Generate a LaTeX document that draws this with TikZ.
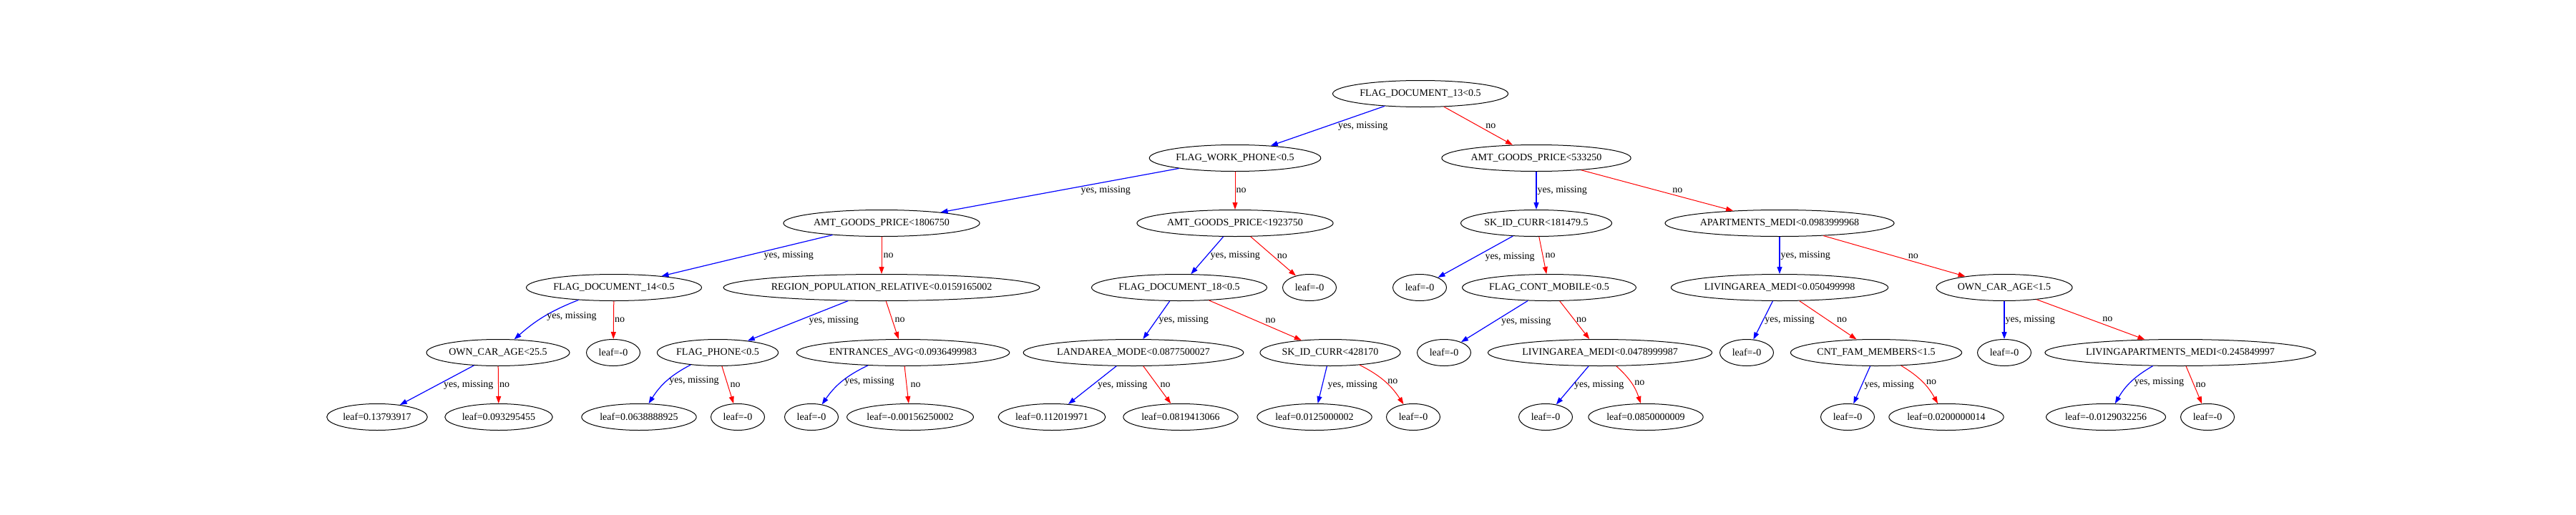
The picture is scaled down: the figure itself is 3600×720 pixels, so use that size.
\documentclass[tikz,border=0pt]{standalone}
\usepackage{fontspec}
\setmainfont{Liberation Serif}
\usetikzlibrary{shapes.geometric,arrows.meta}

\begin{document}
\begin{tikzpicture}[x=1pt,y=-1pt]
  \tikzstyle{every node}+=[font=\fontsize{14}{16}\selectfont]
  \tikzstyle{tnode}=[draw, ellipse, line width=1pt, inner xsep=2pt, inner ysep=2pt, minimum width=75pt, minimum height=37pt]
  \tikzstyle{yesedge}=[blue, line width=1.2pt, -{Triangle[length=10pt,width=7pt]}]
  \tikzstyle{noedge}=[red, line width=1pt, -{Triangle[length=10pt,width=7pt]}]
  \tikzstyle{lbl}=[midway, anchor=west, inner sep=0pt, text=black]
  \useasboundingbox (0,0) rectangle (3600,720);

  % level 0 and 1
  \node[tnode] (fdoc13) at (1985,131) {FLAG\_DOCUMENT\_13<0.5};
  \node[tnode] (fwphone) at (1726,221) {FLAG\_WORK\_PHONE<0.5};
  \node[tnode] (agp533) at (2147,221) {AMT\_GOODS\_PRICE<533250};

  % level 2
  \node[tnode] (agp1806) at (1232,312) {AMT\_GOODS\_PRICE<1806750};
  \node[tnode] (agp1923) at (1726,312) {AMT\_GOODS\_PRICE<1923750};
  \node[tnode] (skid181) at (2147,312) {SK\_ID\_CURR<181479.5};
  \node[tnode] (apmedi) at (2487,312) {APARTMENTS\_MEDI<0.0983999968};

  % level 3
  \node[tnode] (fdoc14) at (858,402) {FLAG\_DOCUMENT\_14<0.5};
  \node[tnode] (regpop) at (1232,402) {REGION\_POPULATION\_RELATIVE<0.0159165002};
  \node[tnode] (fdoc18) at (1648,402) {FLAG\_DOCUMENT\_18<0.5};
  \node[tnode] (lfa) at (1830,402) {leaf=-0};
  \node[tnode] (lfb) at (1984,402) {leaf=-0};
  \node[tnode] (fcont) at (2165,402) {FLAG\_CONT\_MOBILE<0.5};
  \node[tnode] (lamedi05) at (2487,402) {LIVINGAREA\_MEDI<0.050499998};
  \node[tnode] (ocar15) at (2801,402) {OWN\_CAR\_AGE<1.5};

  % level 4
  \node[tnode] (ocar25) at (696,493) {OWN\_CAR\_AGE<25.5};
  \node[tnode] (lfc) at (857,493) {leaf=-0};
  \node[tnode] (fphone) at (1003,493) {FLAG\_PHONE<0.5};
  \node[tnode] (entavg) at (1262,493) {ENTRANCES\_AVG<0.0936499983};
  \node[tnode] (landmode) at (1584,493) {LANDAREA\_MODE<0.0877500027};
  \node[tnode] (skid428) at (1859,493) {SK\_ID\_CURR<428170};
  \node[tnode] (lfd) at (2018,493) {leaf=-0};
  \node[tnode] (lamedi04) at (2236,493) {LIVINGAREA\_MEDI<0.0478999987};
  \node[tnode] (lfe) at (2441,493) {leaf=-0};
  \node[tnode] (cntfam) at (2622,493) {CNT\_FAM\_MEMBERS<1.5};
  \node[tnode] (lff) at (2801,493) {leaf=-0};
  \node[tnode] (lapmedi) at (3047,493) {LIVINGAPARTMENTS\_MEDI<0.245849997};

  % level 5 (leaves)
  \node[tnode] (lv1) at (527,583) {leaf=0.13793917};
  \node[tnode] (lv2) at (697,583) {leaf=0.093295455};
  \node[tnode] (lv3) at (893,583) {leaf=0.0638888925};
  \node[tnode] (lv4) at (1031,583) {leaf=-0};
  \node[tnode] (lv5) at (1134,583) {leaf=-0};
  \node[tnode] (lv6) at (1272,583) {leaf=-0.00156250002};
  \node[tnode] (lv7) at (1470,583) {leaf=0.112019971};
  \node[tnode] (lv8) at (1650,583) {leaf=0.0819413066};
  \node[tnode] (lv9) at (1837,583) {leaf=0.0125000002};
  \node[tnode] (lv10) at (1975,583) {leaf=-0};
  \node[tnode] (lv11) at (2160,583) {leaf=-0};
  \node[tnode] (lv12) at (2300,583) {leaf=0.0850000009};
  \node[tnode] (lv13) at (2582,583) {leaf=-0};
  \node[tnode] (lv14) at (2720,583) {leaf=0.0200000014};
  \node[tnode] (lv15) at (2943,583) {leaf=-0.0129032256};
  \node[tnode] (lv16) at (3085,583) {leaf=-0};

  % edges
  \draw[yesedge] (fdoc13) -- node[lbl, xshift=14pt] {yes, missing} (fwphone);
  \draw[noedge] (fdoc13) -- node[lbl, xshift=10pt] {no} (agp533);
  \draw[yesedge] (fwphone) -- node[lbl, xshift=29pt] {yes, missing} (agp1806);
  \draw[noedge] (fwphone) -- node[lbl, xshift=1pt] {no} (agp1923);
  \draw[yesedge] (agp533) -- node[lbl, xshift=1pt] {yes, missing} (skid181);
  \draw[noedge] (agp533) -- node[lbl, xshift=21pt] {no} (apmedi);

  \draw[yesedge] (agp1806) -- node[lbl, xshift=23pt] {yes, missing} (fdoc14);
  \draw[noedge] (agp1806) -- node[lbl, xshift=2pt] {no} (regpop);
  \draw[yesedge] (agp1923) -- node[lbl, xshift=4pt] {yes, missing} (fdoc18);
  \draw[noedge] (agp1923) -- node[lbl, xshift=5pt] {no} (lfa);
  \draw[yesedge] (skid181) -- node[lbl, xshift=13pt] {yes, missing} (lfb);
  \draw[noedge] (skid181) -- node[lbl, xshift=3pt] {no} (fcont);
  \draw[yesedge] (apmedi) -- node[lbl, xshift=1pt] {yes, missing} (lamedi05);
  \draw[noedge] (apmedi) -- node[lbl, xshift=19pt] {no} (ocar15);

  \draw[yesedge] (fdoc14) to[bend right=10] node[lbl, xshift=3pt] {yes, missing} (ocar25);
  \draw[noedge] (fdoc14) -- node[lbl, xshift=1pt] {no} (lfc);
  \draw[yesedge] (regpop) -- node[lbl, xshift=15pt] {yes, missing} (fphone);
  \draw[noedge] (regpop) -- node[lbl, xshift=3pt] {no} (entavg);
  \draw[yesedge] (fdoc18) -- node[lbl, xshift=3pt] {yes, missing} (landmode);
  \draw[noedge] (fdoc18) -- node[lbl, xshift=14pt] {no} (skid428);
  \draw[yesedge] (fcont) -- node[lbl, xshift=9pt] {yes, missing} (lfd);
  \draw[noedge] (fcont) -- node[lbl, xshift=2pt] {no} (lamedi04);
  \draw[yesedge] (lamedi05) -- node[lbl, xshift=2pt] {yes, missing} (lfe);
  \draw[noedge] (lamedi05) -- node[lbl, xshift=12pt] {no} (cntfam);
  \draw[yesedge] (ocar15) -- node[lbl, xshift=1pt] {yes, missing} (lff);
  \draw[noedge] (ocar15) -- node[lbl, xshift=16pt] {no} (lapmedi);

  \draw[yesedge] (ocar25) -- node[lbl, xshift=9pt] {yes, missing} (lv1);
  \draw[noedge] (ocar25) -- node[lbl, xshift=1pt] {no} (lv2);
  \draw[yesedge] (fphone) to[bend right=15] node[lbl, xshift=3pt] {yes, missing} (lv3);
  \draw[noedge] (fphone) -- node[lbl, xshift=3pt] {no} (lv4);
  \draw[yesedge] (entavg) to[bend right=15] node[lbl, xshift=3pt] {yes, missing} (lv5);
  \draw[noedge] (entavg) -- node[lbl, xshift=5pt] {no} (lv6);
  \draw[yesedge] (landmode) -- node[lbl, xshift=7pt] {yes, missing} (lv7);
  \draw[noedge] (landmode) -- node[lbl, xshift=4pt] {no} (lv8);
  \draw[yesedge] (skid428) -- node[lbl, xshift=7pt] {yes, missing} (lv9);
  \draw[noedge] (skid428) to[bend left=15] node[lbl, xshift=4pt] {no} (lv10);
  \draw[yesedge] (lamedi04) -- node[lbl, xshift=2pt] {yes, missing} (lv11);
  \draw[noedge] (lamedi04) to[bend left=15] node[lbl, xshift=4pt] {no} (lv12);
  \draw[yesedge] (cntfam) -- node[lbl, xshift=3pt] {yes, missing} (lv13);
  \draw[noedge] (cntfam) to[bend left=15] node[lbl, xshift=5pt] {no} (lv14);
  \draw[yesedge] (lapmedi) to[bend right=15] node[lbl, xshift=4pt] {yes, missing} (lv15);
  \draw[noedge] (lapmedi) -- node[lbl, xshift=2pt] {no} (lv16);
\end{tikzpicture}
\end{document}
